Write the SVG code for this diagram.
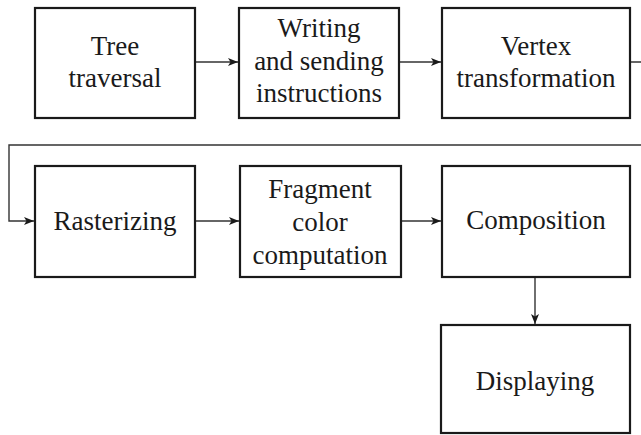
<svg xmlns="http://www.w3.org/2000/svg" width="641" height="435" viewBox="0 0 641 435">
<style>
.box{fill:#fff;stroke:#1a1a1a;stroke-width:2.2}
.t{font-family:"Liberation Serif","Times New Roman",serif;font-size:27px;fill:#1a1a1a;text-anchor:middle}
.c{fill:none;stroke:#333;stroke-width:1.4}
</style>
<defs>
<marker id="ah" viewBox="0 0 10 8" refX="10" refY="4" markerWidth="10" markerHeight="8" markerUnits="userSpaceOnUse" orient="auto">
<path d="M0,0 L10,4 L0,8 L2.5,4 Z" fill="#1a1a1a"/>
</marker>
</defs>
<g id="connectors">
<path class="c" d="M195,62 H238" marker-end="url(#ah)"/>
<path class="c" d="M399,62 H441" marker-end="url(#ah)"/>
<path class="c" d="M630,62 H641 M641,145 H9 V221 H34" marker-end="url(#ah)"/>
<path class="c" d="M195,221 H239" marker-end="url(#ah)"/>
<path class="c" d="M401,221 H441" marker-end="url(#ah)"/>
<path class="c" d="M535,277 V324" marker-end="url(#ah)"/>
</g>
<g id="tree">
<rect class="box" x="35" y="8" width="160" height="110"/>
<text class="t" x="115" y="55">Tree</text>
<text class="t" x="115" y="87">traversal</text>
</g>
<g id="writing">
<rect class="box" x="239" y="8" width="160" height="110"/>
<text class="t" x="319" y="37">Writing</text>
<text class="t" x="319" y="70">and sending</text>
<text class="t" x="319" y="102">instructions</text>
</g>
<g id="vertex">
<rect class="box" x="442" y="8" width="188" height="110"/>
<text class="t" x="536" y="55">Vertex</text>
<text class="t" x="536" y="87">transformation</text>
</g>
<g id="rasterizing">
<rect class="box" x="35" y="166" width="160" height="111"/>
<text class="t" x="115" y="230">Rasterizing</text>
</g>
<g id="fragment">
<rect class="box" x="240" y="166" width="161" height="111"/>
<text class="t" x="320" y="198">Fragment</text>
<text class="t" x="320" y="231">color</text>
<text class="t" x="320" y="264">computation</text>
</g>
<g id="composition">
<rect class="box" x="442" y="166" width="188" height="111"/>
<text class="t" x="536" y="229">Composition</text>
</g>
<g id="displaying">
<rect class="box" x="441" y="325" width="189" height="108"/>
<text class="t" x="535" y="390">Displaying</text>
</g>
</svg>
